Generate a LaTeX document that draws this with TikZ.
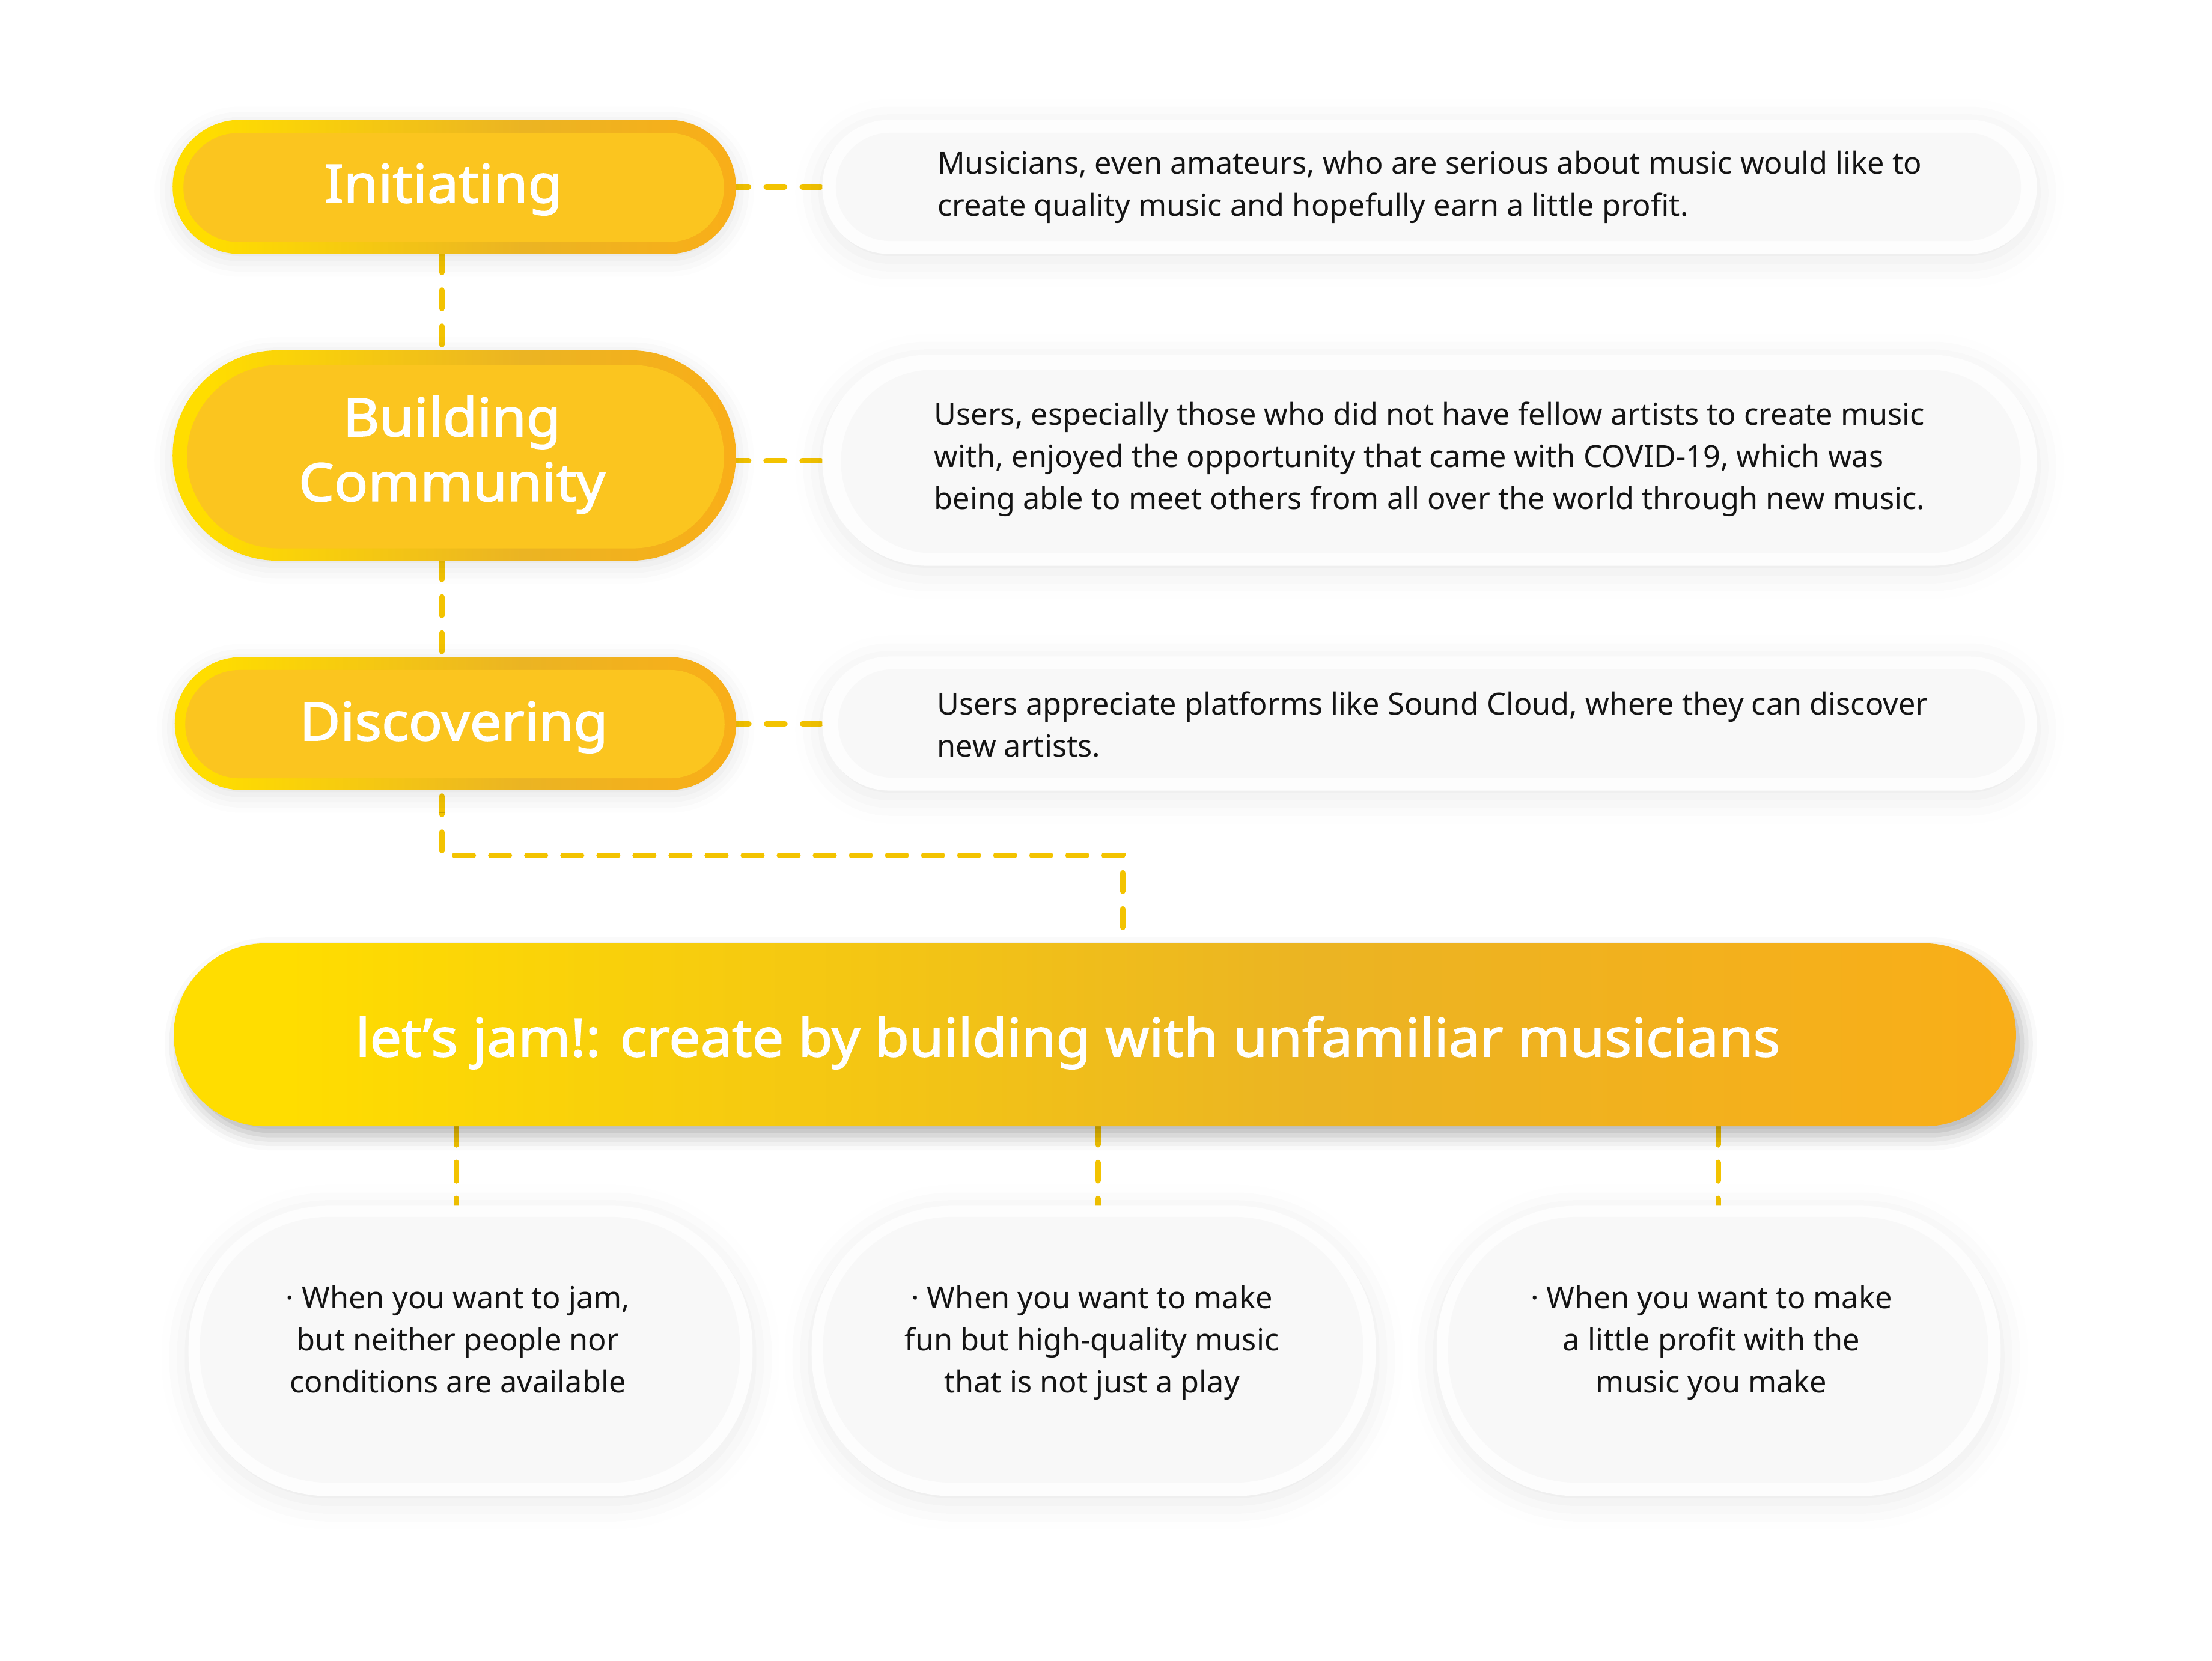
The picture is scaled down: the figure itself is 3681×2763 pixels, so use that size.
\documentclass[tikz,border=0pt]{standalone}
\usepackage{fontspec}
\setmainfont{Noto Sans}
\newfontfamily\titlefont{Noto Sans}[FakeBold=2, FakeStretch=1.06]
\usetikzlibrary{shapes.misc,shadows.blur}
\definecolor{gY}{HTML}{FFDD00}
\definecolor{gM}{HTML}{EBB423}
\definecolor{gO}{HTML}{F9AE18}
\definecolor{pillinc}{HTML}{FBC51F}
\definecolor{dashc}{HTML}{F3C300}
\definecolor{boxoutc}{HTML}{FDFDFD}
\definecolor{boxinc}{HTML}{F8F8F8}
\definecolor{txtc}{HTML}{141414}
\pgfdeclarehorizontalshading{goldshade}{100bp}{color(0bp)=(gY); color(25bp)=(gY); color(28bp)=(gY); color(56bp)=(gM); color(75bp)=(gO); color(100bp)=(gO)}
\pgfdeclarelayer{back}
\pgfdeclarelayer{bg}
\pgfsetlayers{back,bg,main}
\begin{document}
\begin{tikzpicture}[x=0.01cm,y=-0.01cm,
  every node/.style={inner sep=0pt, outer sep=0pt},
  pillout/.style={rounded rectangle, shade, shading=goldshade,
    blur shadow={shadow xshift=0pt, shadow yshift=-0.08cm, shadow blur radius=0.3cm, shadow opacity=12}},
  pillin/.style={rounded rectangle, fill=pillinc},
  boxout/.style={rounded rectangle, fill=boxoutc,
    blur shadow={shadow xshift=0pt, shadow yshift=-0.1cm, shadow blur radius=0.45cm, shadow opacity=9}},
  boxin/.style={rounded rectangle, fill=boxinc},
  bubout/.style={rectangle, rounded corners=2.35cm, fill=boxoutc, minimum width=9.38cm, minimum height=4.83cm,
    blur shadow={shadow xshift=0pt, shadow yshift=-0.1cm, shadow blur radius=0.45cm, shadow opacity=9}},
  bubin/.style={rectangle, rounded corners=2.15cm, fill=boxinc, minimum width=8.98cm, minimum height=4.42cm},
  banstyle/.style={rounded rectangle, shade, shading=goldshade,
    blur shadow={shadow xshift=0.1cm, shadow yshift=-0.15cm, shadow blur radius=0.25cm, shadow opacity=30}},
  titletxt/.style={text=white, font=\titlefont\fontsize{25pt}{30.7pt}\selectfont},
  desctxt/.style={text=txtc, align=left, font=\fontsize{14.35pt}{19.9pt}\selectfont},
  bubtxt/.style={text=txtc, align=center, font=\fontsize{14.35pt}{19.9pt}\selectfont},
  conn/.style={draw=dashc, line width=0.09cm, line cap=round, dash pattern=on 0.31cm off 0.29cm}
]
\begin{pgfonlayer}{back}
\fill[white] (0,0) rectangle (3681,2763);
\end{pgfonlayer}
\useasboundingbox (0,0) rectangle (3681,2763);
% off-page primer for the shadow fading (kept outside the page)
\node[rounded rectangle, fill=white, minimum width=1cm, minimum height=0.5cm,
  blur shadow={shadow opacity=1}] (primer) at (-3000,-3000) {};

% stage pills
\node[pillout, minimum width=9.37cm, minimum height=2.23cm] (iout) at (756,311) {};
\node[pillin, minimum width=8.99cm, minimum height=1.81cm] (iin) at (755,312) {};
\node[titletxt, anchor=base] (tinit) at (738,337) {Initiating};

\node[pillout, minimum width=9.37cm, minimum height=3.50cm] (bout) at (756,758) {};
\node[pillin, minimum width=8.93cm, minimum height=3.05cm] (bin) at (758,760) {};
\node[titletxt, align=center] (tbuild) at (752,757) {Building\\Community};

\node[pillout, minimum width=9.34cm, minimum height=2.21cm] (dout) at (758,1204) {};
\node[pillin, minimum width=8.97cm, minimum height=1.80cm] (din) at (757,1205) {};
\node[titletxt, anchor=base] (tdisc) at (755,1232) {Discovering};

% description boxes
\node[boxout, minimum width=20.20cm, minimum height=2.23cm] (idout) at (2379,311) {};
\node[boxin, minimum width=19.71cm, minimum height=1.80cm] (idin) at (2377,311) {};
\node[desctxt] (tid) at (2379,311) {Musicians, even amateurs, who are serious about music would like to\\create quality music and hopefully earn a little profit.};

\node[boxout, minimum width=20.20cm, minimum height=3.51cm] (bdout) at (2379,766) {};
\node[boxin, minimum width=19.62cm, minimum height=3.05cm] (bdin) at (2381,768) {};
\node[desctxt] (tbd) at (2379,764) {Users, especially those who did not have fellow artists to create music\\with, enjoyed the opportunity that came with COVID-19, which was\\being able to meet others from all over the world through new music.};

\node[boxout, minimum width=20.20cm, minimum height=2.23cm] (ddout) at (2379,1204) {};
\node[boxin, minimum width=19.73cm, minimum height=1.80cm] (ddin) at (2382,1204) {};
\node[desctxt] (tdd) at (2384,1206) {Users appreciate platforms like Sound Cloud, where they can discover\\new artists.};

% banner
\node[banstyle, minimum width=30.64cm, minimum height=3.04cm] (ban) at (1822,1722) {};
\node[titletxt, anchor=base] (tban) at (1777,1758) {let’s jam!: create by building with unfamiliar musicians};

% bubbles
\node[bubout] (b1) at (783,2248) {};
\node[bubin] (b1in) at (782,2246) {};
\node[bubtxt] (t1) at (762,2229) {· When you want to jam,\\but neither people nor\\conditions are available};

\node[bubout] (b2) at (1820,2248) {};
\node[bubin] (b2in) at (1819,2246) {};
\node[bubtxt] (t2) at (1817,2234) {· When you want to make\\fun but high-quality music\\that is not just a play};

\node[bubout] (b3) at (2860,2248) {};
\node[bubin] (b3in) at (2859,2246) {};
\node[bubtxt] (t3) at (2848,2234) {· When you want to make\\a little profit with the\\music you make};

% connectors
\coordinate (spine) at (735,0);
\coordinate (elbow) at (1868,1423);
\coordinate (c1) at (759,0);
\coordinate (c2) at (1827,0);
\coordinate (c3) at (2859,0);
\begin{pgfonlayer}{bg}
\draw[conn, dash phase=0.1cm] (iout.east) -- (idout.west);
\draw[conn, dash phase=0.1cm] (bout.east |- bdout.west) -- (bdout.west);
\draw[conn, dash phase=0.1cm] (dout.east) -- (ddout.west);
\draw[conn] (iout.south -| spine) -- (bout.north -| spine);
\draw[conn] (bout.south -| spine) -- (dout.north -| spine);
\draw[conn] ([yshift=-0.1cm]dout.south -| spine) |- (elbow) -- (elbow |- ban.north);
\draw[conn] (ban.south -| c1) -- (b1.north -| c1);
\draw[conn] (ban.south -| c2) -- (b2.north -| c2);
\draw[conn] (ban.south -| c3) -- (b3.north -| c3);
\end{pgfonlayer}
\end{tikzpicture}
\end{document}
